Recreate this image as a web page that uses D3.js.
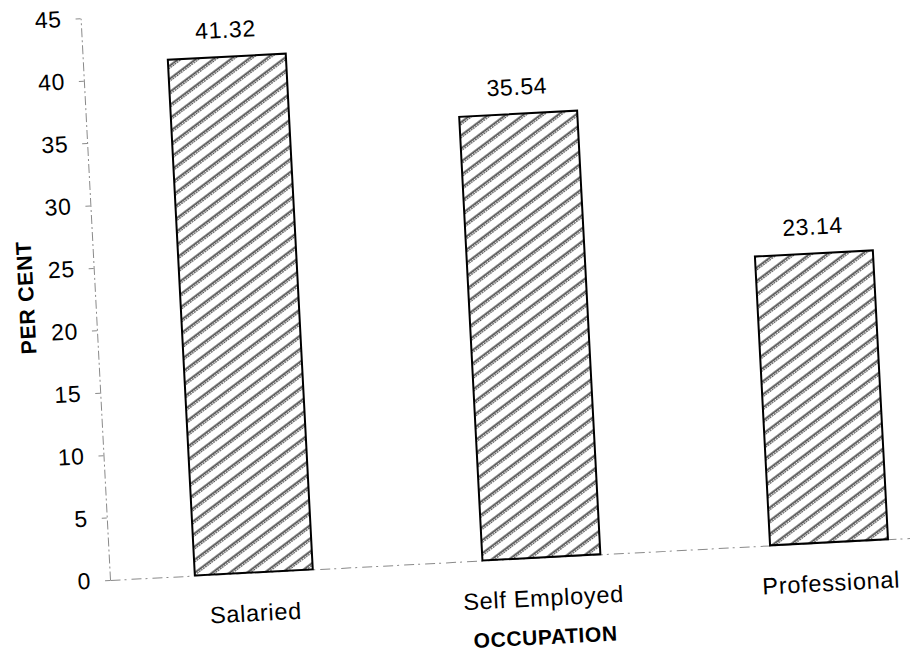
<!DOCTYPE html>
<html>
<head>
<meta charset="utf-8">
<script src="https://cdn.jsdelivr.net/npm/d3@7/dist/d3.min.js"></script>
<style>
  html, body { margin: 0; padding: 0; background: #fff; }
  svg { display: block; }
  text { font-family: "Liberation Sans", Arial, sans-serif; fill: #000; }
</style>
</head>
<body>
<script>
// Occupation-wise distribution (per cent)
const categories = ["Salaried", "Self Employed", "Professional"];
const values = [41.32, 35.54, 23.14];
const yTicks = [0, 5, 10, 15, 20, 25, 30, 35, 40, 45];
const yTitle = "PER CENT";
const xTitle = "OCCUPATION";

const W = 910, H = 660;
const plotW = 864, plotH = 562.5;

const svg = d3.select("body").append("svg")
  .attr("width", W).attr("height", H);

// Diagonal hatch fill for the bars
const defs = svg.append("defs");
const pat = defs.append("pattern")
  .attr("id", "hatch")
  .attr("patternUnits", "userSpaceOnUse")
  .attr("width", 10.5).attr("height", 10.5)
  .attr("patternTransform", "rotate(-34)");
pat.append("rect").attr("width", 10.5).attr("height", 10.5).attr("fill", "#fff");
pat.append("line").attr("x1", 0).attr("x2", 10.5).attr("y1", 3).attr("y2", 3)
  .attr("stroke", "#1a1a1a").attr("stroke-width", 1.2);
pat.append("line").attr("x1", 0).attr("x2", 10.5).attr("y1", 4.9).attr("y2", 4.9)
  .attr("stroke", "#555").attr("stroke-width", 1.7).attr("stroke-dasharray", "1.6,1");

// The whole chart sits slightly tilted on the page
const g = svg.append("g").attr("transform", "translate(110,580) rotate(-3)");

const y = d3.scaleLinear().domain([0, 45]).range([0, -plotH]);
const x = d3.scaleBand().domain(categories).range([0, plotW])
  .paddingInner(0.59).paddingOuter(0.295);

// Y axis
const yAxis = g.append("g")
  .call(d3.axisLeft(y).tickValues(yTicks).tickSize(5).tickSizeOuter(0).tickPadding(14));
yAxis.select(".domain").attr("stroke", "#8a8a8a").attr("stroke-width", 1)
  .attr("stroke-dasharray", "9,3,2,3");
yAxis.selectAll(".tick line").attr("stroke", "#8a8a8a");
yAxis.selectAll(".tick text")
  .style("font-family", "'Liberation Sans', Arial, sans-serif")
  .style("font-size", "23px").style("letter-spacing", "0.6px").attr("fill", "#000");

// X axis (baseline and category names)
const xAxis = g.append("g")
  .call(d3.axisBottom(x).tickSize(0).tickSizeOuter(0).tickPadding(32));
xAxis.select(".domain").attr("stroke", "#8a8a8a").attr("stroke-width", 1)
  .attr("stroke-dasharray", "10,4,2,5");
xAxis.selectAll(".tick text")
  .style("font-family", "'Liberation Sans', Arial, sans-serif")
  .style("font-size", "23.5px").style("letter-spacing", "0.7px").attr("fill", "#000");

// Bars
g.selectAll("rect.bar").data(values).join("rect")
  .attr("class", "bar")
  .attr("x", (d, i) => x(categories[i]))
  .attr("width", x.bandwidth())
  .attr("y", d => y(d))
  .attr("height", d => y(0) - y(d))
  .attr("fill", "url(#hatch)")
  .attr("stroke", "#000").attr("stroke-width", 2);

// Value labels
g.selectAll("text.val").data(values).join("text")
  .attr("class", "val")
  .attr("x", (d, i) => x(categories[i]) + x.bandwidth() / 2)
  .attr("y", d => y(d) - 19)
  .attr("text-anchor", "middle")
  .style("font-size", "23px").style("letter-spacing", "0.6px")
  .text(d => d.toFixed(2));

// Axis titles
g.append("text")
  .attr("transform", `translate(-61.5,${y(22.9)}) rotate(-90)`)
  .attr("text-anchor", "middle")
  .style("font-size", "21.5px").style("font-weight", "bold").style("letter-spacing", "0.6px")
  .text(yTitle);

g.append("text")
  .attr("x", plotW / 2).attr("y", 87)
  .attr("text-anchor", "middle")
  .style("font-size", "21px").style("font-weight", "bold").style("letter-spacing", "0.6px")
  .text(xTitle);
</script>
</body>
</html>
